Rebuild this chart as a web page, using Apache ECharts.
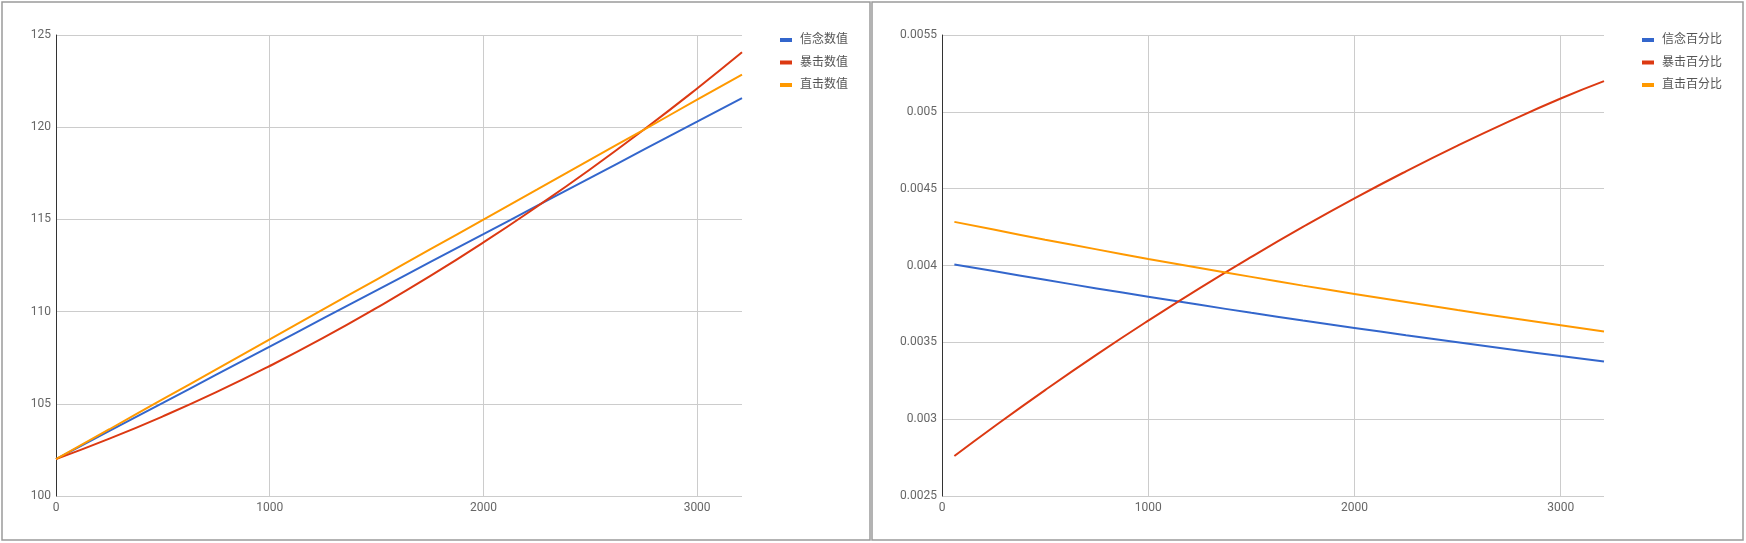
<!DOCTYPE html>
<html>
<head>
<meta charset="utf-8">
<script src="https://cdn.jsdelivr.net/npm/echarts@6/dist/echarts.min.js"></script>
<style>
html,body{margin:0;padding:0;background:#fff;}
#c{width:1746px;height:543px;}
</style>
</head>
<body>
<div id="c"></div>
<script>
// ---- data ----
const xValue = [0, 250, 500, 750, 1000, 1250, 1500, 1750, 2000, 2250, 2500, 2750, 3000, 3210];
const faithValue  = [102, 103.53, 105.05, 106.58, 108.10, 109.63, 111.15, 112.68, 114.20, 115.73, 117.25, 118.78, 120.30, 121.58];
const critValue   = [102, 103.11, 104.32, 105.63, 107.05, 108.57, 110.20, 111.92, 113.75, 115.69, 117.72, 119.86, 122.10, 124.06];
const directValue = [102, 103.62, 105.25, 106.87, 108.50, 110.12, 111.74, 113.37, 114.99, 116.61, 118.24, 119.86, 121.49, 122.85];

const xPct = [60, 250, 500, 750, 1000, 1250, 1500, 1750, 2000, 2250, 2500, 2750, 3000, 3210];
const faithPct  = [0.004007, 0.003964, 0.003907, 0.003851, 0.003797, 0.003744, 0.003692, 0.003642, 0.003594, 0.003546, 0.003500, 0.003455, 0.003411, 0.003376];
const critPct   = [0.002760, 0.002949, 0.003189, 0.003420, 0.003641, 0.003853, 0.004056, 0.004251, 0.004437, 0.004613, 0.004780, 0.004938, 0.005087, 0.005200];
const directPct = [0.004284, 0.004234, 0.004168, 0.004105, 0.004043, 0.003984, 0.003926, 0.003869, 0.003815, 0.003762, 0.003710, 0.003660, 0.003611, 0.003571];

const namesValue = ['信念数值', '暴击数值', '直击数值'];
const namesPct = ['信念百分比', '暴击百分比', '直击百分比'];
const xTickLabels = ['0', '1000', '2000', '3000'];
const yTickLabelsLeft = ['100', '105', '110', '115', '120', '125'];
const yTickLabelsRight = ['0.0025', '0.003', '0.0035', '0.004', '0.0045', '0.005', '0.0055'];

const colors = ['#3366cc', '#dc3912', '#ff9900'];

function pairs(xs, ys) { return xs.map((x, i) => [x, ys[i]]); }

const labelColor = '#666666';
const font = 'Roboto, "Noto Sans CJK SC", sans-serif';

function xAxisCfg(gridIndex) {
  return {
    type: 'value', gridIndex: gridIndex, min: 0, max: 3210, interval: 1000,
    axisLine: { show: false }, axisTick: { show: false },
    splitLine: { show: true, showMaxLine: false, lineStyle: { color: '#cccccc', width: 1 } },
    axisLabel: {
      color: labelColor, fontSize: 12, fontFamily: font, margin: 6,
      showMaxLabel: false,
      formatter: function (v) {
        const i = Math.round(v / 1000);
        return (Math.abs(v - i * 1000) < 1e-6 && xTickLabels[i] !== undefined) ? xTickLabels[i] : '';
      }
    }
  };
}

function yAxisCfg(gridIndex, min, max, interval, labels) {
  return {
    type: 'value', gridIndex: gridIndex, min: min, max: max, interval: interval,
    axisLine: { show: true, onZero: false, lineStyle: { color: '#333333', width: 1 } },
    axisTick: { show: false },
    splitLine: { show: true, lineStyle: { color: '#cccccc', width: 1 } },
    axisLabel: {
      color: labelColor, fontSize: 12, fontFamily: font, margin: 5,
      formatter: function (v) {
        const i = Math.round((v - min) / interval);
        return labels[i] !== undefined ? labels[i] : '';
      }
    }
  };
}

function legendCfg(names, left) {
  return {
    data: names, orient: 'vertical', left: left, top: 28,
    icon: 'rect', itemWidth: 12, itemHeight: 4, itemGap: 8.5,
    textStyle: { color: '#555555', fontSize: 12, fontFamily: font, lineHeight: 14, padding: [0, 0, 0, 3] },
    selectedMode: false
  };
}

function lineSeries(name, data, xi, color) {
  return {
    name: name, type: 'line', xAxisIndex: xi, yAxisIndex: xi, data: data,
    showSymbol: false, symbol: 'none', smooth: true,
    lineStyle: { color: color, width: 2 }, itemStyle: { color: color },
    emphasis: { disabled: true }, animation: false
  };
}

const chart = echarts.init(document.getElementById('c'), null, { renderer: 'canvas' });
chart.setOption({
  animation: false,
  backgroundColor: '#ffffff',
  color: colors,
  grid: [
    { left: 56, top: 35, width: 686, height: 461 },
    { left: 942, top: 35, width: 662, height: 461 }
  ],
  xAxis: [xAxisCfg(0), xAxisCfg(1)],
  yAxis: [
    yAxisCfg(0, 100, 125, 5, yTickLabelsLeft),
    yAxisCfg(1, 0.0025, 0.0055, 0.0005, yTickLabelsRight)
  ],
  legend: [legendCfg(namesValue, 775), legendCfg(namesPct, 1637)],
  series: [
    lineSeries(namesValue[0], pairs(xValue, faithValue), 0, colors[0]),
    lineSeries(namesValue[1], pairs(xValue, critValue), 0, colors[1]),
    lineSeries(namesValue[2], pairs(xValue, directValue), 0, colors[2]),
    lineSeries(namesPct[0], pairs(xPct, faithPct), 1, colors[0]),
    lineSeries(namesPct[1], pairs(xPct, critPct), 1, colors[1]),
    lineSeries(namesPct[2], pairs(xPct, directPct), 1, colors[2])
  ],
  graphic: [
    { type: 'rect', silent: true, shape: { x: 2, y: 2, width: 868, height: 538 },
      style: { fill: 'none', stroke: '#9a9a9a', lineWidth: 1.5 } },
    { type: 'rect', silent: true, shape: { x: 872, y: 2, width: 871, height: 538 },
      style: { fill: 'none', stroke: '#9a9a9a', lineWidth: 1.5 } }
  ]
});
</script>
</body>
</html>
